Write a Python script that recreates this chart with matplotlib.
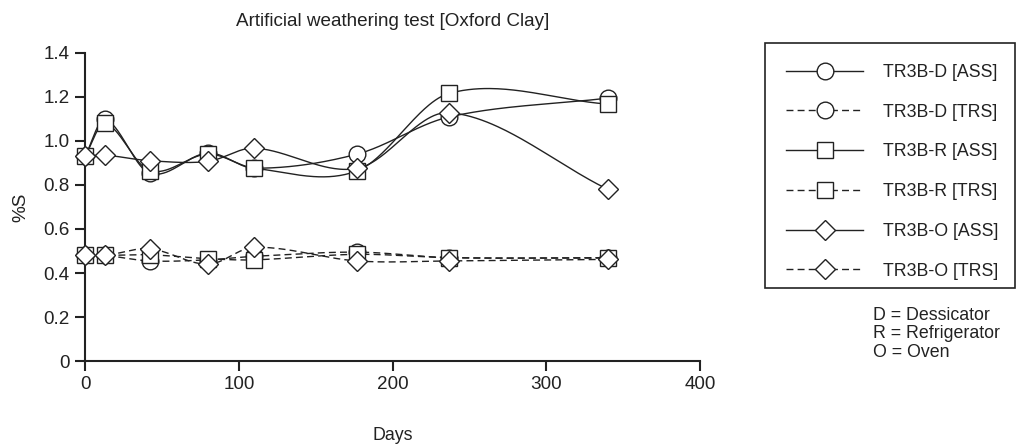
import numpy as np
import matplotlib
matplotlib.use('Agg')
import matplotlib.pyplot as plt
from matplotlib.lines import Line2D
from matplotlib.patches import Rectangle

plt.rcParams['font.family'] = ['Liberation Sans', 'DejaVu Sans']

days = [0, 13, 42, 80, 110, 177, 237, 340]

d_ass = [0.93, 1.098, 0.853, 0.945, 0.876, 0.94, 1.109, 1.194]
d_trs = [0.48, 0.48, 0.455, 0.46, 0.476, 0.495, 0.47, 0.47]
r_ass = [0.93, 1.08, 0.865, 0.94, 0.876, 0.864, 1.216, 1.167]
r_trs = [0.48, 0.48, 0.483, 0.465, 0.46, 0.485, 0.47, 0.468]
o_ass = [0.93, 0.935, 0.91, 0.907, 0.967, 0.875, 1.128, 0.78]
o_trs = [0.48, 0.48, 0.51, 0.44, 0.517, 0.455, 0.455, 0.462]

labels = ['TR3B-D [ASS]', 'TR3B-D [TRS]', 'TR3B-R [ASS]',
          'TR3B-R [TRS]', 'TR3B-O [ASS]', 'TR3B-O [TRS]']
series = [d_ass, d_trs, r_ass, r_trs, o_ass, o_trs]
markers = ['o', 'o', 's', 's', 'D', 'D']
styles = ['-', '--', '-', '--', '-', '--']
msizes = [12, 12, 11, 11, 10.5, 10.5]

y_ticks = [0, 0.2, 0.4, 0.6, 0.8, 1.0, 1.2, 1.4]
y_ticklabels = ['0', '0.2', '0.4', '0.6', '0.8', '1.0', '1.2', '1.4']
x_ticks = [0, 100, 200, 300, 400]

FS = 12.8
FS_AX = 13.6
INK = '#222222'


def smooth(x, y, n=60):
    # cubic hermite through the points, catmull-rom style slopes
    x = np.asarray(x, float)
    y = np.asarray(y, float)
    m = np.zeros_like(y)
    m[1:-1] = (y[2:] - y[:-2]) / (x[2:] - x[:-2])
    m[0] = (y[1] - y[0]) / (x[1] - x[0])
    m[-1] = (y[-1] - y[-2]) / (x[-1] - x[-2])
    xs, ys = [], []
    for i in range(len(x) - 1):
        h = x[i + 1] - x[i]
        t = np.linspace(0, 1, n)
        h00 = 2 * t ** 3 - 3 * t ** 2 + 1
        h10 = t ** 3 - 2 * t ** 2 + t
        h01 = -2 * t ** 3 + 3 * t ** 2
        h11 = t ** 3 - t ** 2
        xs.append(x[i] + t * h)
        ys.append(h00 * y[i] + h10 * h * m[i] + h01 * y[i + 1] + h11 * h * m[i + 1])
    return np.concatenate(xs), np.concatenate(ys)


fig = plt.figure(figsize=(10.25, 4.47), dpi=100)
ax = fig.add_axes([0.083, 0.192, 0.6, 0.69])

for vals, m, ls, ms in zip(series, markers, styles, msizes):
    xs, ys = smooth(days, vals)
    ax.plot(xs, ys, color=INK, lw=1.0, ls=ls,
            dashes=(5, 3) if ls == '--' else (None, None), zorder=2)
    ax.plot(days, vals, ls='none', marker=m, ms=ms,
            mfc='white', mec=INK, mew=1.0, zorder=3, clip_on=False)

ax.set_xlim(0, 400)
ax.set_ylim(0, 1.4)
ax.set_xticks(x_ticks)
ax.set_yticks(y_ticks)
ax.set_yticklabels(y_ticklabels)
for s in ['top', 'right']:
    ax.spines[s].set_visible(False)
for s in ['left', 'bottom']:
    ax.spines[s].set_linewidth(1.5)
    ax.spines[s].set_color(INK)
ax.tick_params(direction='out', length=7, width=1.5, labelsize=FS_AX, colors=INK, pad=4)
ax.set_xlabel('Days', fontsize=FS, labelpad=24, color=INK)
ax.set_ylabel('%S', fontsize=FS_AX, labelpad=10, color=INK)
ax.set_title('Artificial weathering test [Oxford Clay]', fontsize=FS_AX, pad=19, color=INK)

handles = []
for m, ls, ms in zip(markers, styles, msizes):
    handles.append(Line2D([], [], color=INK, lw=1.0, ls=ls,
                          dashes=(5, 3) if ls == '--' else (None, None),
                          marker=m, ms=ms, mfc='white', mec=INK, mew=1.0))
leg = fig.legend(handles, labels, loc='upper left', bbox_to_anchor=(0.749, 0.899),
                 fontsize=FS, frameon=False,
                 handlelength=4.3, handletextpad=1.15, labelspacing=1.28,
                 borderpad=1.05, borderaxespad=0)
for t in leg.get_texts():
    t.set_color(INK)

# legend frame
fig.patches.append(Rectangle((0.7463, 0.3557), 0.2439, 0.548, transform=fig.transFigure,
                             fill=False, edgecolor=INK, lw=1.2))

fig.text(0.852, 0.314, 'D = Dessicator\nR = Refrigerator\nO = Oven',
         fontsize=FS, va='top', ha='left', linespacing=1.12, color=INK)

fig.savefig('out.png', dpi=100)
